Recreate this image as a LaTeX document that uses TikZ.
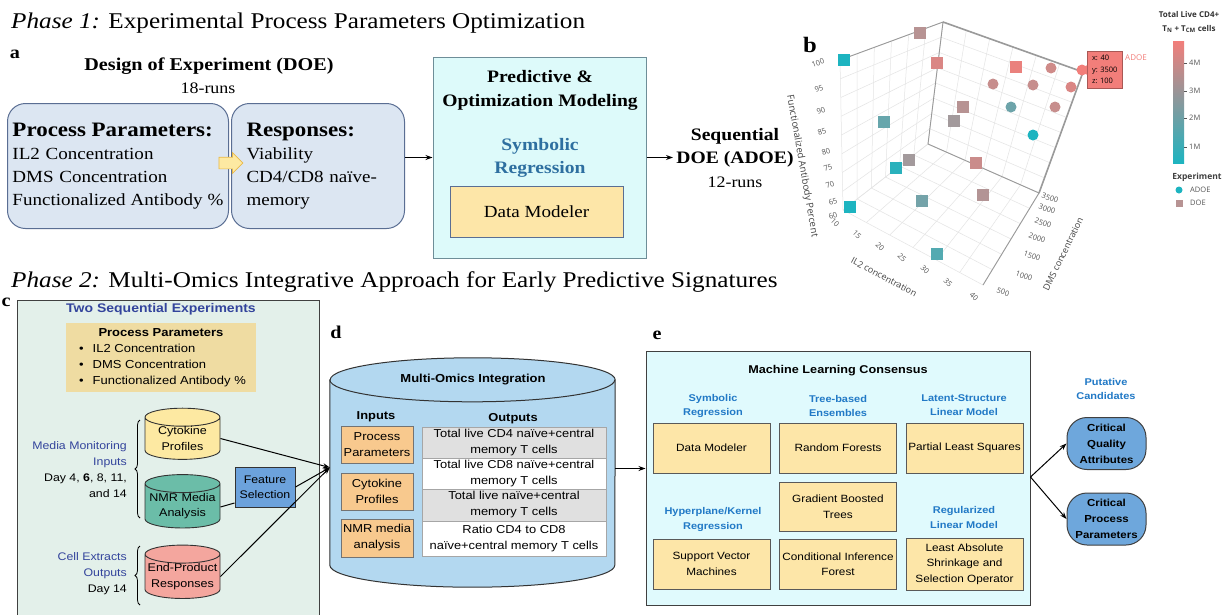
\documentclass[tikz,border=0pt]{standalone}
\usepackage{fontspec}
\setmainfont{Liberation Serif}[FakeStretch=1.12]
\setsansfont{Liberation Sans}[FakeStretch=1.12]
\newfontfamily\plotfont{Open Sans}
\usepackage{tikz}
\usetikzlibrary{arrows.meta}
\usetikzlibrary{positioning,decorations.pathreplacing}
\usetikzlibrary{calc,shapes.geometric,shapes.arrows}
\usepackage{xcolor}

\definecolor{boxblue}{HTML}{DCE6F2}
\definecolor{boxline}{HTML}{5A6E93}
\definecolor{arrowedge}{HTML}{E8B84A}
\definecolor{aquafill}{HTML}{DDFAFA}
\definecolor{predline}{HTML}{6E8E98}
\definecolor{sandfill}{HTML}{FDE6A8}
\definecolor{symblue}{HTML}{2E6FA0}
\definecolor{panelgreen}{HTML}{E3F0EA}
\definecolor{indigo}{HTML}{33449C}
\definecolor{tanfill}{HTML}{EFDCA2}
\definecolor{cytoyellow}{HTML}{FDE9A2}
\definecolor{nmrteal}{HTML}{6BBDA8}
\definecolor{endpink}{HTML}{F4A69E}
\definecolor{featblue}{HTML}{6CA2DC}
\definecolor{omicsblue}{HTML}{B3D8F0}
\definecolor{inorange}{HTML}{F8C98E}
\definecolor{rowgray}{HTML}{E0E0E0}
\definecolor{mlcyan}{HTML}{E0FAFD}
\definecolor{headblue}{HTML}{2179C6}
\definecolor{candblue}{HTML}{6EA7DC}
\definecolor{pTeal}{HTML}{1DB4C0}
\definecolor{pGray}{HTML}{A39A9C}
\definecolor{pPink}{HTML}{F27E7A}
\definecolor{gridgray}{HTML}{E4E4E4}
\definecolor{axisgray}{HTML}{9A9A9A}
\definecolor{ticktext}{HTML}{555555}

\tikzset{
    flow/.style={-{Stealth[length=7pt, width=5pt]}, line width=1pt},
    letter/.style={font=\fontsize{18}{20}\selectfont\bfseries, inner sep=0pt},
    pbox/.style={
        draw=boxline, fill=boxblue, line width=1pt, rounded corners=18pt,
        anchor=north west, minimum height=125pt, align=left,
        font=\fontsize{17}{23}\selectfont
    },
    drum/.style={
        cylinder, shape border rotate=90, draw=black!80, line width=0.9pt,
        shape aspect=0.25, minimum width=75pt, text width=72pt, inner sep=0pt, align=center,
        font=\sffamily\fontsize{11.2}{15.5}\selectfont
    },
    inbox/.style={
        draw=black!55, fill=inorange, minimum width=72pt, minimum height=37pt,
        inner sep=0pt, align=center, font=\sffamily\fontsize{11.5}{16}\selectfont
    },
    outrow/.style={
        draw=black!35, minimum width=184pt, inner sep=0pt, align=center,
        font=\sffamily\fontsize{11.5}{16}\selectfont
    },
    mlbox/.style={
        draw=black!65, fill=sandfill, line width=0.8pt, minimum width=117pt,
        minimum height=50pt, inner sep=1pt, align=center,
        font=\sffamily\fontsize{10.5}{15.5}\selectfont
    },
    mlhead/.style={text=headblue, align=center, font=\sffamily\bfseries\fontsize{9.8}{14.5}\selectfont},
    cand/.style={
        draw=black!75, fill=candblue, line width=1pt, rounded corners=20pt,
        minimum width=79pt, minimum height=52pt, inner sep=0pt, align=center,
        font=\sffamily\bfseries\fontsize{10.2}{16}\selectfont
    },
    grid line/.style={draw=gridgray, line width=0.5pt},
    plot edge/.style={draw=axisgray, line width=0.9pt},
    ticklabel/.style={text=ticktext, inner sep=0pt, font=\plotfont\fontsize{7.5}{9}\selectfont},
    axis title/.style={text=ticktext!80!black, inner sep=0pt, font=\plotfont\fontsize{9}{11}\selectfont}
}

\begin{document}
\begin{tikzpicture}[x=1pt, y=-1pt]
    \useasboundingbox (0,0) rectangle (1226,614);
    \fill[white] (0,0) rectangle (1226,614);

    % Phase 1
    \node[anchor=base west, inner sep=0pt, font=\fontsize{22.5}{26}\selectfont] (phase1) at (11,28)
        {\textit{Phase 1:} Experimental Process Parameters Optimization};
    \node[letter] (lbla) at (15,54) {a};
    \node[font=\fontsize{18}{20}\selectfont\bfseries] (doe) at (209,66) {Design of Experiment (DOE)};
    \node[font=\fontsize{16}{18}\selectfont] (doeruns) at (208,88) {18-runs};

    \node[pbox, minimum width=221pt, text width=211pt, inner xsep=5pt] (params) at (7,103)
        {{\fontsize{20.5}{23}\selectfont\bfseries Process Parameters:}\\
         IL2 Concentration\\
         DMS Concentration\\
         Functionalized\hfill Antibody\hfill \%};
    \node[pbox, minimum width=173pt, text width=143pt, inner xsep=15pt] (resp) at (231,103)
        {{\fontsize{20.5}{23}\selectfont\bfseries Responses:}\\
         Viability\\
         CD4/CD8 naïve-\\
         memory};
    \node[single arrow, draw=arrowedge, fill=cytoyellow, line width=0.7pt, minimum width=20pt,
        minimum height=24pt, single arrow head extend=4.5pt, inner sep=0pt] (pparrow) at (228,163) {\rule{0pt}{11pt}};

    \node[draw=predline, fill=aquafill, line width=1pt, minimum width=213pt, minimum height=201pt] (pred) at (539.5,157.5) {};
    \node[align=center, font=\fontsize{17.5}{24}\selectfont\bfseries] (predtitle) at (540,90)
        {Predictive \&\\Optimization Modeling};
    \node[align=center, text=symblue, font=\fontsize{17.5}{23}\selectfont\bfseries] (symreg) at (540,157.5)
        {Symbolic\\Regression};
    \node[draw=boxline, fill=sandfill, line width=1pt, minimum width=173pt, minimum height=51pt,
        font=\fontsize{17}{20}\selectfont] (dmtop) at (536.5,211.5) {Data Modeler};

    \node[align=center, font=\fontsize{17.5}{23.5}\selectfont] (seq) at (735,158)
        {\textbf{Sequential}\\\textbf{DOE (ADOE)}\\{\fontsize{16}{18}\selectfont 12-runs}};

    \draw[flow] (resp.east |- pred.west) -- (pred.west);
    \draw[flow] (pred.east) -- (pred.east -| seq.west);

    % plot b
    \node[letter, font=\fontsize{22}{24}\selectfont\bfseries] (lblb) at (810,45) {b};
    \coordinate (TL) at (840,60);
    \coordinate (TB) at (943,22);
    \coordinate (TR) at (1083,72);
    \coordinate (BL) at (843,210);
    \coordinate (BB) at (928,144);
    \coordinate (BR) at (1039,193);
    \coordinate (FR) at (983,285);
    \foreach \i in {0,...,6}{
        \pgfmathsetmacro\t{\i/6}
        \draw[grid line] ($(BL)!\t!(BB)$) -- ($(TL)!\t!(TB)$);
        \draw[grid line] ($(BB)!\t!(BR)$) -- ($(TB)!\t!(TR)$);
        \draw[grid line] ($(BL)!\t!(FR)$) -- ($(BB)!\t!(BR)$);
        \draw[grid line] ($(BL)!\t!(BB)$) -- ($(FR)!\t!(BR)$);
    }
    \foreach \i in {0,...,8}{
        \pgfmathsetmacro\t{\i/8}
        \draw[grid line] ($(BL)!\t!(TL)$) -- ($(BB)!\t!(TB)$);
        \draw[grid line] ($(BB)!\t!(TB)$) -- ($(BR)!\t!(TR)$);
    }
    \draw[plot edge] (TL) -- (TB) -- (BB) -- (BR) -- (FR);
    \draw[plot edge, line width=1.6pt] (TB) -- (TR) -- (BR);

    % DOE runs
    \foreach \x/\y/\c in {844/60/pTeal, 920/33/pPink!25!pGray, 937/63/pPink!70!pGray,
            1016/67/pPink!90!pGray, 963/107/pPink!25!pGray, 954/121/pGray,
            884/122/pTeal!45!pGray, 909/160/pGray, 896/168/pTeal!90!pGray,
            976/163/pPink!50!pGray, 983/195/pPink!20!pGray, 922/201/pTeal!35!pGray,
            850/207/pTeal, 937/254/pTeal!60!pGray}
        \fill[\c] (\x-6,\y-6) rectangle (\x+6,\y+6);
    % ADOE runs
    \foreach \x/\y/\c in {1051/68/pPink!55!pGray, 993/84/pPink!45!pGray, 1033/85/pPink!45!pGray,
            1071/87/pPink!70!pGray, 1011/107/pTeal!40!pGray, 1055/107/pPink!45!pGray,
            1033/135/pTeal, 1082/70/pPink}
        \fill[\c] (\x,\y) circle[radius=5.5pt];

    \node[fill=pPink, draw=pPink!70!black, line width=0.5pt, anchor=west, align=left, inner sep=2pt,
        minimum width=35pt, minimum height=37pt, font=\plotfont\fontsize{7.5}{11.5}\selectfont] (tip) at (1087,69.5)
        {x: 40\\y: 3500\\z: 100};
    \fill[pPink] (1087,65) -- (1083,70) -- (1087,75) -- cycle;
    \node[text=pPink, inner sep=0pt, font=\plotfont\fontsize{8}{10}\selectfont] (tiptag) at (1136,58) {ADOE};

    \foreach \x/\y/\l in {818/63/100, 819/89/95, 821/111/90, 822/132/85, 826/152/80,
            828/168/75, 830/185/70, 833/202/65, 833/216/60}
        \node[ticklabel, rotate=20] (fap\l) at (\x,\y) {\l};
    \foreach \x/\y/\l in {835/223/10, 857/235/15, 880/247/20, 902/258/25, 925/270/30,
            948/283/35, 974/297/40}
        \node[ticklabel, rotate=-45] (ilt\l) at (\x,\y) {\l};
    \foreach \x/\y/\l in {1050/198/3500, 1047/209/3000, 1043/223/2500, 1037/238/2000,
            1032/256/1500, 1024/276/1000, 1003/292/500}
        \node[ticklabel, rotate=-20] (dms\l) at (\x,\y) {\l};
    \node[axis title, rotate=-80, font=\plotfont\fontsize{9.6}{11}\selectfont] (faptitle) at (802,166) {Functionalized Antibody Percent};
    \node[axis title, rotate=-28] (iltitle) at (884,277) {IL2 concentration};
    \node[axis title, rotate=64] (dmstitle) at (1063,254) {DMS concentration};

    % colour bar and legend
    \node[align=center, text=black!80, inner sep=0pt, font=\plotfont\bfseries\fontsize{8}{14}\selectfont] (cbtitle) at (1189,22)
        {Total Live CD4+\\T\textsubscript{N} + T\textsubscript{CM} cells};
    \shade[top color=pPink, middle color=pGray, bottom color=pTeal] (1173,41) rectangle (1184,163);
    \foreach \y/\l in {63/4M, 91/3M, 118/2M, 147/1M}{
        \draw[ticktext, line width=0.5pt] (1184,\y) -- (1187,\y);
        \node[ticklabel, anchor=west] (cb\l) at (1189,\y) {\l};
    }
    \node[text=black!75, inner sep=0pt, font=\plotfont\bfseries\fontsize{8.5}{10}\selectfont] (legtitle) at (1197,177) {Experiment};
    \fill[pTeal] (1179,190) circle[radius=3.5pt];
    \fill[pPink!25!pGray] (1175.5,199.5) rectangle (1182.5,206.5);
    \node[ticklabel, anchor=west] (legadoe) at (1190,190) {ADOE};
    \node[ticklabel, anchor=west] (legdoe) at (1190,203) {DOE};

    % Phase 2
    \node[anchor=base west, inner sep=0pt, font=\fontsize{22.5}{26}\selectfont] (phase2) at (11,287)
        {\textit{Phase 2:} Multi-Omics Integrative Approach for Early Predictive Signatures};

    % panel c
    \node[letter] (lblc) at (6,302) {c};
    \node[draw=black!75, fill=panelgreen, line width=1pt, anchor=north west, minimum width=302pt,
        minimum height=330pt] (expt) at (17,300) {};
    \node[text=indigo, font=\sffamily\bfseries\fontsize{12.5}{14}\selectfont] (expttitle) at (161,309)
        {Two Sequential Experiments};
    \node[fill=tanfill, anchor=north west, minimum width=190pt, minimum height=69pt] (ppc) at (66,323) {};
    \node[font=\sffamily\bfseries\fontsize{11.6}{14}\selectfont] (ppctitle) at (161,333) {Process Parameters};
    \node[anchor=west, align=left, inner sep=0pt, font=\sffamily\fontsize{11.6}{16}\selectfont] (ppclist) at (79,365)
        {\textbullet\hspace{9pt}IL2 Concentration\\
         \textbullet\hspace{9pt}DMS Concentration\\
         \textbullet\hspace{9pt}Functionalized Antibody \%};

    \node[drum, fill=cytoyellow, minimum height=49pt] (cyto) at (182.5,438.5) {Cytokine\\Profiles};
    \node[drum, fill=nmrteal, minimum height=43pt] (nmr) at (182.5,506) {NMR Media\\Analysis};
    \node[drum, fill=endpink, minimum height=53pt] (endp) at (182.5,576.5) {End-Product\\Responses};
    \node[draw=black!80, fill=featblue, line width=1pt, minimum width=60pt, minimum height=40pt,
        inner sep=0pt, align=center, font=\sffamily\fontsize{11}{15}\selectfont] (feat) at (265,487)
        {Feature\\Selection};

    \node[anchor=east, align=right, inner sep=0pt, font=\sffamily\fontsize{11}{16}\selectfont] (media) at (127,470)
        {\textcolor{indigo}{Media Monitoring}\\\textcolor{indigo}{Inputs}\\Day 4, \textbf{6}, 8, 11,\\and 14};
    \node[anchor=east, align=right, inner sep=0pt, font=\sffamily\fontsize{11}{16}\selectfont] (cellx) at (127,574)
        {\textcolor{indigo}{Cell Extracts}\\\textcolor{indigo}{Outputs}\\Day 14};
    \draw[decorate, decoration={brace, amplitude=5pt}, line width=0.8pt] (140,518) -- (140,420);
    \draw[decorate, decoration={brace, amplitude=5pt}, line width=0.8pt] (140,605) -- (140,546);

    % panel d
    \node[letter] (lbld) at (336,332) {d};
    \node[minimum width=285pt, minimum height=185pt, inner sep=0pt] (omics) at (472.5,472.5) {};
    \draw[draw=black!80, line width=1pt, fill=omicsblue] (omics.north west) -- (omics.south west)
        arc[start angle=180, end angle=360, x radius=142.5pt, y radius=22pt] -- (omics.north east)
        arc[start angle=0, end angle=180, x radius=142.5pt, y radius=22pt] -- cycle;
    \draw[draw=black!80, line width=1pt] (omics.north west)
        arc[start angle=180, end angle=360, x radius=142.5pt, y radius=22pt];
    \node[font=\sffamily\bfseries\fontsize{11.6}{14}\selectfont] (omtitle) at (473,380) {Multi-Omics Integration};
    \node[font=\sffamily\bfseries\fontsize{11.5}{14}\selectfont] (inhead) at (376,417) {Inputs};
    \node[font=\sffamily\bfseries\fontsize{11.5}{14}\selectfont] (outhead) at (513,419) {Outputs};
    \node[inbox] (inpp) at (377,444.5) {Process\\Parameters};
    \node[inbox] (incyto) at (377,491.5) {Cytokine\\Profiles};
    \node[inbox, minimum height=38pt] (innmr) at (377,538) {NMR media\\analysis};
    \node[outrow, fill=rowgray, minimum height=31pt] (out1) at (514,442.5) {Total live CD4 naïve+central\\memory T cells};
    \node[outrow, fill=white, minimum height=31pt] (out2) at (514,473.5) {Total live CD8 naïve+central\\memory T cells};
    \node[outrow, fill=rowgray, minimum height=32pt] (out3) at (514,505) {Total live naïve+central\\memory T cells};
    \node[outrow, fill=white, minimum height=35pt] (out4) at (514,538.5) {Ratio CD4 to CD8\\naïve+central memory T cells};

    \coordinate (omin) at ([yshift=5pt]omics.west);
    \draw[flow] (cyto.east) -- (omin);
    \draw[line width=1pt] ([yshift=-1pt]nmr.east) -- ([yshift=-16pt]feat.west);
    \draw[flow] (feat.east) -- (omin);
    \draw[flow] (endp.east) -- (omin);

    % panel e
    \node[letter] (lble) at (657,335) {e};
    \node[draw=black!75, fill=mlcyan, line width=1pt, minimum width=384pt, minimum height=254pt] (ml) at (838,478) {};
    \node[font=\sffamily\bfseries\fontsize{11.3}{14}\selectfont] (mltitle) at (838,371) {Machine Learning Consensus};
    \node[mlhead] (hsym) at (713,406) {Symbolic\\Regression};
    \node[mlhead] (htree) at (838,406) {Tree-based\\Ensembles};
    \node[mlhead] (hlat) at (964,405) {Latent-Structure\\Linear Model};
    \node[mlhead] (hhyp) at (713,519.5) {Hyperplane/Kernel\\Regression};
    \node[mlhead] (hreg) at (964,517.5) {Regularized\\Linear Model};
    \node[mlbox] (dm) at (711.5,448) {Data Modeler};
    \node[mlbox] (rf) at (838,448) {Random Forests};
    \node[mlbox] (pls) at (964.5,448) {Partial Least Squares};
    \node[mlbox, minimum height=49pt] (gbt) at (838,506.5) {Gradient Boosted\\Trees};
    \node[mlbox] (svm) at (711.5,564) {Support Vector\\Machines};
    \node[mlbox] (cif) at (838,564) {Conditional Inference\\Forest};
    \node[mlbox, minimum height=52pt] (lasso) at (964.5,564) {Least Absolute\\Shrinkage and\\Selection Operator};

    \draw[flow] ([yshift=4pt]omics.east) -- ([yshift=4pt]omics.east -| ml.west);

    \node[mlhead, font=\sffamily\bfseries\fontsize{9.8}{14}\selectfont] (putative) at (1106,389) {Putative\\Candidates};
    \node[cand] (cqa) at (1106.5,443.5) {Critical\\Quality\\Attributes};
    \node[cand] (cpp) at (1106.5,519) {Critical\\Process\\Parameters};
    \coordinate (mlout) at ([yshift=1pt]ml.east);
    \draw[flow] (mlout) -- (cqa.west);
    \draw[flow] (mlout) -- (cpp.west);
\end{tikzpicture}
\end{document}
